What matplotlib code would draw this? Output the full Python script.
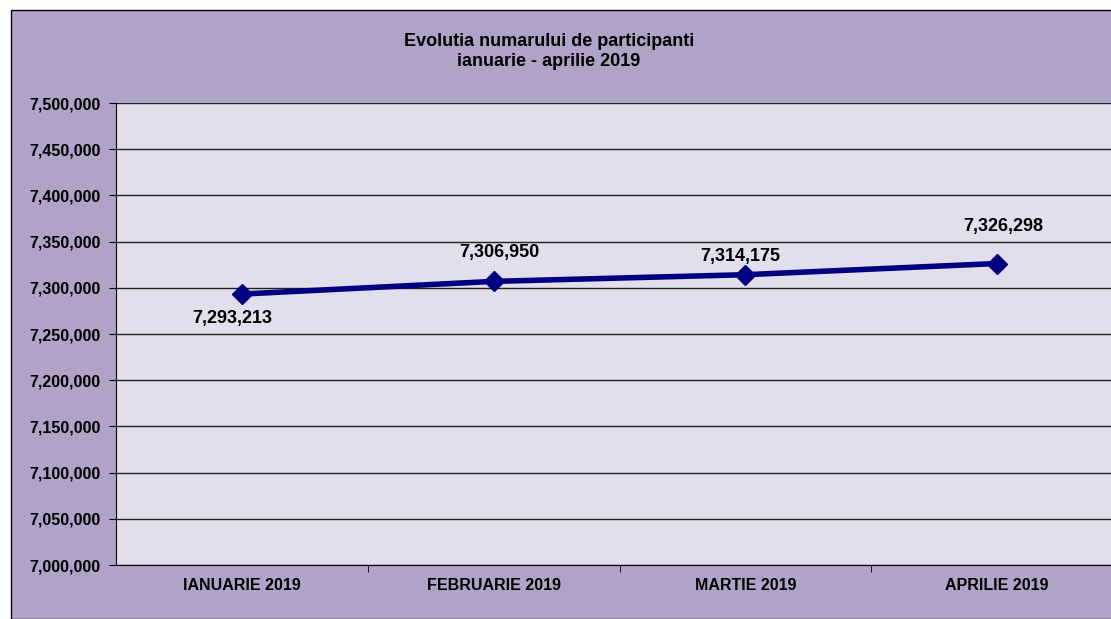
import matplotlib.pyplot as plt
from matplotlib.patches import Rectangle
from matplotlib.ticker import FuncFormatter, FixedLocator

plt.rcParams['font.family'] = ['Liberation Sans', 'DejaVu Sans']

months = ['IANUARIE 2019', 'FEBRUARIE 2019', 'MARTIE 2019', 'APRILIE 2019']
participants = [7293213, 7306950, 7314175, 7326298]
# label offsets from the marker, in pixels (dx, dy up)
label_offsets = [(-10, -24), (6, 29), (-5, 18), (6, 37)]

W, H = 1111, 619
fig = plt.figure(figsize=(W / 100, H / 100), dpi=100)
fig.patch.set_facecolor('white')

# purple chart area with border
fig.patches.append(Rectangle((11 / W, 0), 1 - 11 / W + 0.01, 1 - 10 / H,
                             transform=fig.transFigure, facecolor='#B1A2C8',
                             edgecolor='black', linewidth=1, zorder=-10))

left, right = 116 / W, 1123 / W
top, bottom = 1 - 103 / H, 1 - 565 / H
ax = fig.add_axes([left, bottom, right - left, top - bottom])
ax.set_facecolor('#E3DEEB')

x = list(range(len(months)))
ax.plot(x, participants, color='#000080', lw=4, marker='D', ms=10, zorder=3)

for xi, v, (dx, dy) in zip(x, participants, label_offsets):
    ax.annotate(f'{v:,}', (xi, v), xytext=(dx * 0.72, dy * 0.72), textcoords='offset points',
                ha='center', va='center', fontsize=13, fontweight='bold')

ax.set_xlim(-0.5, len(months) - 0.5)
ax.set_ylim(7000000, 7500000)
ax.set_yticks(range(7000000, 7500001, 50000))
ax.yaxis.set_major_formatter(FuncFormatter(lambda v, p: f'{int(v):,}'))
ax.grid(axis='y', color='#222222', lw=1)
ax.set_axisbelow(True)

ax.set_xticks(x)
ax.set_xticklabels(months, fontsize=11.5, fontweight='bold')
ax.tick_params(axis='x', length=0, pad=9)
ax.xaxis.set_minor_locator(FixedLocator([0.5, 1.5, 2.5]))
ax.tick_params(axis='x', which='minor', length=5, direction='out', color='black')
for lbl in ax.get_yticklabels():
    lbl.set_fontweight('bold')
ax.tick_params(axis='y', labelsize=11.5, length=5, direction='out', color='black', pad=6)

for s in ['top', 'right']:
    ax.spines[s].set_visible(False)
ax.spines['left'].set_color('black')
ax.spines['bottom'].set_color('black')

fig.text(549 / W, 1 - 41 / H, 'Evolutia numarului de participanti',
         ha='center', va='center', fontsize=13, fontweight='bold')
fig.text(549 / W, 1 - 62 / H, 'ianuarie - aprilie 2019',
         ha='center', va='center', fontsize=13, fontweight='bold')

fig.savefig('out.png', dpi=100)
